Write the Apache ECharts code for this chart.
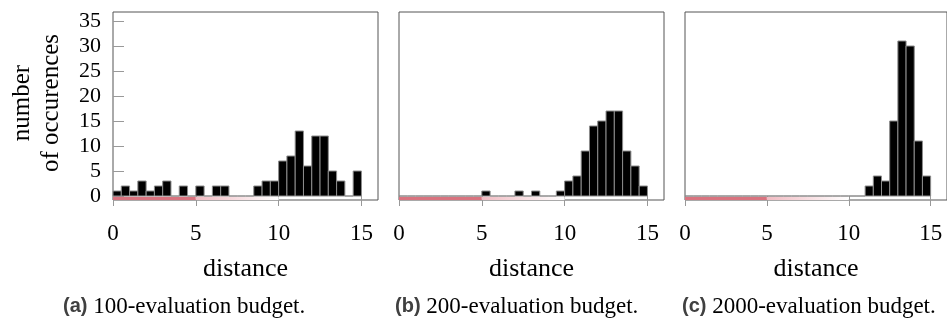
<!DOCTYPE html>
<html>
<head>
<meta charset="utf-8">
<script src="https://cdn.jsdelivr.net/npm/echarts@6/dist/echarts.min.js"></script>
<style>
  html, body { margin: 0; padding: 0; background: #fff; }
  #chart { width: 947px; height: 318px; }
</style>
</head>
<body>
<div id="chart"></div>
<script>
  // bin edges of the histograms (bin width 0.5)
  var binEdges = [0, 0.5, 1, 1.5, 2, 2.5, 3, 3.5, 4, 4.5, 5, 5.5, 6, 6.5, 7, 7.5,
    8, 8.5, 9, 9.5, 10, 10.5, 11, 11.5, 12, 12.5, 13, 13.5, 14, 14.5, 15];

  var counts100 = [1, 2, 1, 3, 1, 2, 3, 0, 2, 0, 2, 0, 2, 2, 0, 0,
    0, 2, 3, 3, 7, 8, 13, 6, 12, 12, 5, 3, 0, 5];
  var counts200 = [0, 0, 0, 0, 0, 0, 0, 0, 0, 0, 1, 0, 0, 0, 1, 0,
    1, 0, 0, 1, 3, 4, 9, 14, 15, 17, 17, 9, 6, 2];
  var counts2000 = [0, 0, 0, 0, 0, 0, 0, 0, 0, 0, 0, 0, 0, 0, 0, 0,
    0, 0, 0, 0, 0, 0, 2, 4, 3, 15, 31, 30, 11, 4];

  var xTicks = [0, 5, 10, 15];
  var yTicks = [0, 5, 10, 15, 20, 25, 30, 35];

  // reference band under the axis: [from, to]
  var bandSolid = [0, 5];
  var bandFade = [5, 10];

  var captions = ['(a)', '(b)', '(c)'];
  var captionText = ['100-evaluation budget.', '200-evaluation budget.', '2000-evaluation budget.'];

  var serif = '"Liberation Serif", "DejaVu Serif", serif';
  var sans = '"Liberation Sans", sans-serif';
  var gridLeft = [113, 399, 685];
  var captionLeft = [63, 395, 682];

  function binData(counts) {
    return counts.map(function (c, i) {
      return [binEdges[i], binEdges[i + 1], c];
    });
  }

  function renderBin(params, api) {
    var lo = api.coord([api.value(0), 0]);
    var hi = api.coord([api.value(1), api.value(2)]);
    return {
      type: 'rect',
      shape: { x: lo[0], y: hi[1], width: hi[0] - lo[0], height: lo[1] - hi[1] },
      style: { fill: '#000', stroke: '#8c8c8c', lineWidth: 1 }
    };
  }

  function renderBand(params, api) {
    var a = api.coord([api.value(0), -0.15]);
    var b = api.coord([api.value(1), -0.8]);
    var fill = api.value(2) === 0 ? '#d9737f' :
      new echarts.graphic.LinearGradient(0, 0, 1, 0, [
        { offset: 0, color: '#f1bcc3' },
        { offset: 1, color: '#ffffff' }
      ]);
    return {
      type: 'rect',
      shape: { x: a[0], y: a[1], width: b[0] - a[0], height: b[1] - a[1] },
      style: { fill: fill }
    };
  }

  var grids = [], xAxes = [], yAxes = [], series = [], graphics = [];
  var allCounts = [counts100, counts200, counts2000];

  allCounts.forEach(function (counts, k) {
    grids.push({
      left: gridLeft[k], top: 12, width: 265, height: 188,
      show: true, borderColor: '#555', borderWidth: 1, backgroundColor: 'transparent'
    });
    xAxes.push({
      type: 'value', gridIndex: k, min: 0, max: 16,
      name: 'distance', nameLocation: 'middle', nameGap: 56,
      nameTextStyle: { fontFamily: serif, fontSize: 26, color: '#000' },
      axisLine: { show: false },
      splitLine: { show: false },
      axisTick: { show: true, inside: false, length: 10, customValues: xTicks,
        lineStyle: { color: '#999' } },
      axisLabel: { customValues: xTicks, fontFamily: serif, fontSize: 23,
        color: '#000', margin: 22 }
    });
    yAxes.push({
      type: 'value', gridIndex: k, min: -0.8, max: 36.8,
      axisLine: { show: false },
      splitLine: { show: false },
      axisTick: { show: k === 0, inside: true, length: 11, customValues: yTicks,
        lineStyle: { color: '#999' } },
      axisLabel: { show: k === 0, customValues: yTicks, fontFamily: serif,
        fontSize: 22, color: '#000', margin: 12 }
    });
    series.push({
      type: 'custom', xAxisIndex: k, yAxisIndex: k,
      renderItem: renderBand, silent: true,
      data: [[bandSolid[0], bandSolid[1], 0], [bandFade[0], bandFade[1], 1]]
    });
    series.push({
      type: 'custom', xAxisIndex: k, yAxisIndex: k,
      renderItem: renderBin,
      data: binData(counts)
    });
    graphics.push({
      type: 'text', left: captionLeft[k], top: 295,
      style: {
        text: '{b|' + captions[k] + '}{t| ' + captionText[k] + '}',
        rich: {
          b: { fontFamily: sans, fontWeight: 'bold', fontSize: 20, fill: '#404040' },
          t: { fontFamily: serif, fontSize: 23, fill: '#000' }
        }
      }
    });
  });

  graphics.push({
    type: 'text', x: 37, y: 103, rotation: Math.PI / 2,
    style: {
      text: 'number\nof occurences', fontFamily: serif, fontSize: 25,
      lineHeight: 29, fill: '#000', align: 'center', verticalAlign: 'middle'
    }
  });

  var chart = echarts.init(document.getElementById('chart'));
  chart.setOption({
    animation: false,
    grid: grids,
    xAxis: xAxes,
    yAxis: yAxes,
    series: series,
    graphic: graphics
  });
</script>
</body>
</html>
